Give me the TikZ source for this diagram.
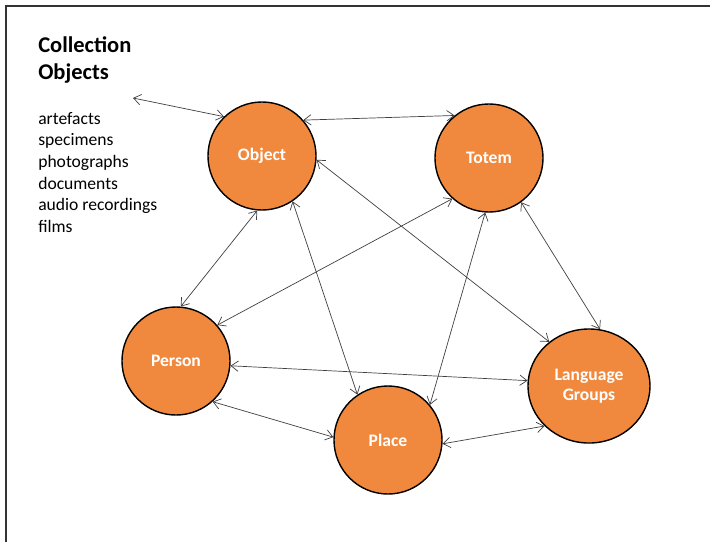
\documentclass[tikz,border=0pt]{standalone}
\usepackage{fontspec}
\setmainfont{Carlito}
\usetikzlibrary{arrows.meta,shapes.geometric}
\definecolor{nodeorange}{HTML}{F0893D}

\begin{document}
\begin{tikzpicture}[x=0.025cm,y=-0.025cm,
    entity/.style={circle,draw=black,line width=1pt,fill=nodeorange,minimum size=2.7cm,
      text=white,font=\fontsize{12.5}{14}\selectfont\bfseries,align=center,inner sep=0pt},
    link/.style={draw=black!75,line width=0.5pt,{Straight Barb[length=1.8mm,width=2.6mm]}-{Straight Barb[length=1.8mm,width=2.6mm]}}]
    \useasboundingbox (0,0) rectangle (710,542);

    % Frame along the top and left edge
    \draw[black!80,line width=1pt] (6,542) -- (6,6) -- (710,6);

    % Heading and the list of object kinds
    \node[anchor=north west,align=left,inner sep=0pt,font=\fontsize{16}{19.2}\selectfont\bfseries] (title) at (38,36) {Collection\\Objects};
    \node[anchor=north west,align=left,inner sep=0pt,font=\fontsize{12.5}{15.4}\selectfont] (kinds) at (38,112)
      {artefacts\\specimens\\photographs\\documents\\audio recordings\\films};
    \coordinate (listend) at (133,98);

    % The five circles
    \node[entity] (obj) at (262,156) {Object};
    \node[entity] (tot) at (489,158) {Totem};
    \node[entity] (per) at (176,361) {Person};
    \node[entity] (pla) at (388,440) {Place};
    \node[entity,ellipse,minimum width=3.05cm,minimum height=2.85cm] (lan) at (589,386) {Language\\Groups};

    % Two-way links between them
    \draw[link] (listend) -- (obj.134);
    \draw[link] (obj.41) -- (tot.129);
    \draw[link] (obj.265) -- (per.85);
    \draw[link] (obj.304) -- (pla.124);
    \draw[link] (obj.356) -- (lan.132);
    \draw[link] (tot.228) -- (per.41);
    \draw[link] (tot.266) -- (pla.40);
    \draw[link] (tot.306) -- (lan.79);
    \draw[link] (per.355) -- (lan.175);
    \draw[link] (per.312) -- (pla.177);
    \draw[link] (pla.356) -- (lan.222);

\end{tikzpicture}
\end{document}
